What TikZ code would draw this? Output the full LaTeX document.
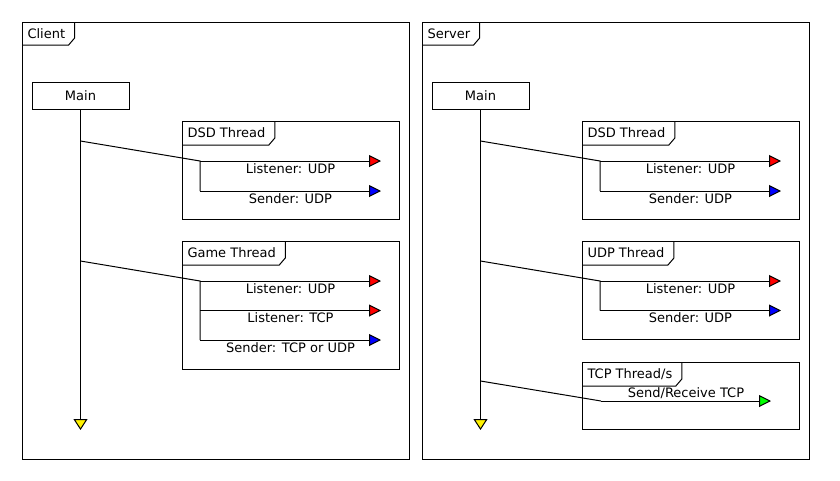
\documentclass[tikz,border=0pt]{standalone}
\usepackage{fontspec}
\setmainfont{DejaVu Sans}
\usepackage{tikz}
\usetikzlibrary{arrows.meta}

\begin{document}
\begin{tikzpicture}[x=1pt, y=-1pt, line width=1pt, font=\fontsize{13}{15}\selectfont]
\tikzstyle{frame} = [rectangle, draw=black, anchor=north west, inner sep=0pt]
\tikzstyle{thread} = [frame, minimum width=217pt]
\tikzstyle{tab} = [rectangle, anchor=north west, inner xsep=5pt, inner ysep=0pt, minimum height=22pt]
\tikzstyle{mainbox} = [rectangle, draw=black, minimum width=97pt, minimum height=27pt, inner sep=0pt]
\tikzstyle{msg} = [below, inner sep=2pt]
\tikzstyle{msgabove} = [above, inner sep=2pt]
\tikzstyle{redarrow} = [-{Triangle[length=12pt, width=12pt, fill=red]}]
\tikzstyle{bluearrow} = [-{Triangle[length=12pt, width=12pt, fill=blue]}]
\tikzstyle{greenarrow} = [-{Triangle[length=12pt, width=12pt, fill=green]}]
\tikzstyle{endarrow} = [-{Triangle[length=11pt, width=14pt, fill=yellow]}]

\useasboundingbox (0,0) rectangle (840,480);

% client side
\node (client) [frame, minimum width=387pt, minimum height=437pt] at (22,22) {};
\node (clienttab) [tab] at (client.north west) {Client};
\draw ([xshift=4pt]clienttab.north east) -- ([xshift=4pt,yshift=7pt]clienttab.south east) -- ([xshift=-2pt]clienttab.south east) -- (clienttab.south west);
\node (clientmain) [mainbox] at (80.5,95.5) {Main};
\coordinate (clientend) at (80.5,430);
\coordinate (clientlife1) at (80.5,141);
\coordinate (clientlife2) at (80.5,261);
\draw [endarrow] (clientmain.south) -- (clientend);

\node (clientdsd) [thread, minimum height=98pt] at (182,121) {};
\node (clientdsdtab) [tab, minimum height=23pt] at (clientdsd.north west) {DSD Thread};
\draw ([xshift=4pt]clientdsdtab.north east) -- ([xshift=4pt,yshift=7pt]clientdsdtab.south east) -- ([xshift=-2pt]clientdsdtab.south east) -- (clientdsdtab.south west);
\coordinate (cdsd1) at (200,161);
\coordinate (cdsd2) at (200,191);
\coordinate (cdsd1e) at (381,161);
\coordinate (cdsd2e) at (381,191);
\draw (clientlife1) -- (cdsd1) -- (cdsd2);
\draw [redarrow] (cdsd1) -- node[msg] (cdsdl1) {Listener: UDP} (cdsd1e);
\draw [bluearrow] (cdsd2) -- node[msg] (cdsdl2) {Sender: UDP} (cdsd2e);

\node (clientgame) [thread, minimum height=128pt] at (182,241) {};
\node (clientgametab) [tab, minimum height=23pt] at (clientgame.north west) {Game Thread};
\draw ([xshift=4pt]clientgametab.north east) -- ([xshift=4pt,yshift=7pt]clientgametab.south east) -- ([xshift=-2pt]clientgametab.south east) -- (clientgametab.south west);
\coordinate (cgame1) at (200,281);
\coordinate (cgame2) at (200,310.5);
\coordinate (cgame3) at (200,340);
\coordinate (cgame1e) at (381,281);
\coordinate (cgame2e) at (381,310.5);
\coordinate (cgame3e) at (381,340);
\draw (clientlife2) -- (cgame1) -- (cgame3);
\draw [redarrow] (cgame1) -- node[msg] (cgamel1) {Listener: UDP} (cgame1e);
\draw [redarrow] (cgame2) -- node[msg] (cgamel2) {Listener: TCP} (cgame2e);
\draw [bluearrow] (cgame3) -- node[msg] (cgamel3) {Sender: TCP or UDP} (cgame3e);

% server side
\node (server) [frame, minimum width=387pt, minimum height=437pt] at (422,22) {};
\node (servertab) [tab] at (server.north west) {Server};
\draw ([xshift=4pt]servertab.north east) -- ([xshift=4pt,yshift=7pt]servertab.south east) -- ([xshift=-2pt]servertab.south east) -- (servertab.south west);
\node (servermain) [mainbox] at (480.5,95.5) {Main};
\coordinate (serverend) at (480.5,430);
\coordinate (serverlife1) at (480.5,141);
\coordinate (serverlife2) at (480.5,261);
\coordinate (serverlife3) at (480.5,381);
\draw [endarrow] (servermain.south) -- (serverend);

\node (serverdsd) [thread, minimum height=98pt] at (582,121) {};
\node (serverdsdtab) [tab, minimum height=23pt] at (serverdsd.north west) {DSD Thread};
\draw ([xshift=4pt]serverdsdtab.north east) -- ([xshift=4pt,yshift=7pt]serverdsdtab.south east) -- ([xshift=-2pt]serverdsdtab.south east) -- (serverdsdtab.south west);
\coordinate (sdsd1) at (600,161);
\coordinate (sdsd2) at (600,191);
\coordinate (sdsd1e) at (781,161);
\coordinate (sdsd2e) at (781,191);
\draw (serverlife1) -- (sdsd1) -- (sdsd2);
\draw [redarrow] (sdsd1) -- node[msg] (sdsdl1) {Listener: UDP} (sdsd1e);
\draw [bluearrow] (sdsd2) -- node[msg] (sdsdl2) {Sender: UDP} (sdsd2e);

\node (serverudp) [thread, minimum height=98pt] at (582,241) {};
\node (serverudptab) [tab, minimum height=23pt] at (serverudp.north west) {UDP Thread};
\draw ([xshift=4pt]serverudptab.north east) -- ([xshift=4pt,yshift=7pt]serverudptab.south east) -- ([xshift=-2pt]serverudptab.south east) -- (serverudptab.south west);
\coordinate (sudp1) at (600,281);
\coordinate (sudp2) at (600,310.5);
\coordinate (sudp1e) at (781,281);
\coordinate (sudp2e) at (781,310.5);
\draw (serverlife2) -- (sudp1) -- (sudp2);
\draw [redarrow] (sudp1) -- node[msg] (sudpl1) {Listener: UDP} (sudp1e);
\draw [bluearrow] (sudp2) -- node[msg] (sudpl2) {Sender: UDP} (sudp2e);

\node (servertcp) [thread, minimum height=67pt] at (582,362) {};
\node (servertcptab) [tab, minimum height=23pt] at (servertcp.north west) {TCP Thread/s};
\draw ([xshift=4pt]servertcptab.north east) -- ([xshift=4pt,yshift=7pt]servertcptab.south east) -- ([xshift=-2pt]servertcptab.south east) -- (servertcptab.south west);
\coordinate (stcp1) at (601,401);
\coordinate (stcp1e) at (771,401);
\draw (serverlife3) -- (stcp1);
\draw [greenarrow] (stcp1) -- node[msgabove] (stcpl1) {Send/Receive TCP} (stcp1e);

\end{tikzpicture}
\end{document}
